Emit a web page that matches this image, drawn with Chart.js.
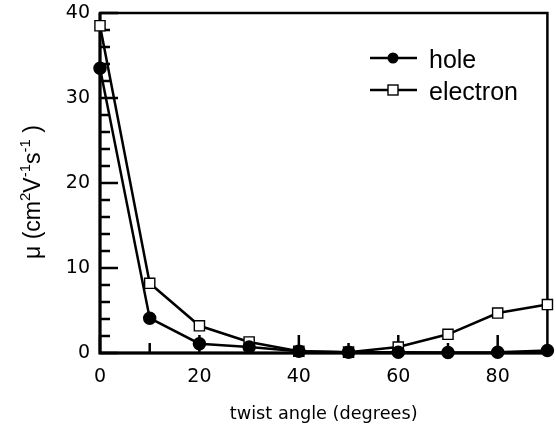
<!DOCTYPE html>
<html>
<head>
<meta charset="utf-8">
<script src="https://cdn.jsdelivr.net/npm/chart.js@4"></script>
<style>
  html, body { margin: 0; padding: 0; background: #fff; }
  #wrap { width: 556px; height: 434px; }
</style>
</head>
<body>
<div id="wrap"><canvas id="c" width="556" height="434"></canvas></div>
<script>
// data
const angles = [0, 10, 20, 30, 40, 50, 60, 70, 80, 90];
const hole = [33.5, 4.1, 1.1, 0.7, 0.2, 0.1, 0.1, 0.05, 0.1, 0.3];
const electron = [38.5, 8.2, 3.2, 1.3, 0.2, 0.1, 0.7, 2.2, 4.7, 5.7];
const xTicks = [0, 20, 40, 60, 80];
const xMinor = [10, 30, 50, 70];
const yTicks = [0, 10, 20, 30, 40];
const yMinor = [2, 4, 6, 8, 12, 14, 16, 18, 22, 24, 26, 28, 32, 34, 36, 38];
// y title pieces: [text, superscript?]
const yTitle = [["μ (cm", false], ["2", true], ["V", false], ["-1", true], ["s", false], ["-1", true], [" )", false]];

const numFont = { family: "DejaVu Sans", size: 19 };

// frame + inward ticks, legend box, y title with superscripts
const frame = {
  id: "frame",
  beforeDatasetsDraw(chart) {
    const { ctx, chartArea: a, scales: { x, y } } = chart;
    ctx.save();
    ctx.strokeStyle = "#000";
    ctx.lineWidth = 2.5;
    ctx.strokeRect(a.left, a.top, a.right - a.left, a.bottom - a.top);
    ctx.lineWidth = 3;
    ctx.beginPath();
    ctx.moveTo(a.left, a.top); ctx.lineTo(a.left, a.bottom); ctx.lineTo(a.right, a.bottom);
    ctx.stroke();
    ctx.lineWidth = 2.5;
    ctx.beginPath();
    yTicks.forEach(v => { const p = y.getPixelForValue(v); ctx.moveTo(a.left, p); ctx.lineTo(a.left + 18, p); });
    yMinor.forEach(v => { const p = y.getPixelForValue(v); ctx.moveTo(a.left, p); ctx.lineTo(a.left + 10, p); });
    xTicks.forEach(v => { const p = x.getPixelForValue(v); ctx.moveTo(p, a.bottom); ctx.lineTo(p, a.bottom - 18); });
    xMinor.forEach(v => { const p = x.getPixelForValue(v); ctx.moveTo(p, a.bottom); ctx.lineTo(p, a.bottom - 10); });
    ctx.stroke();

    // y axis title
    const big = "23px 'Liberation Sans'", small = "15px 'Liberation Sans'";
    let total = 0;
    yTitle.forEach(([t, sup]) => { ctx.font = sup ? small : big; total += ctx.measureText(t).width; });
    ctx.translate(40, 192);
    ctx.rotate(-Math.PI / 2);
    ctx.fillStyle = "#000";
    ctx.textBaseline = "alphabetic";
    let pos = -total / 2;
    yTitle.forEach(([t, sup]) => {
      ctx.font = sup ? small : big;
      ctx.fillText(t, pos, sup ? -10 : 0);
      pos += ctx.measureText(t).width;
    });
    ctx.restore();
  },
  afterDatasetsDraw(chart) {
    const { ctx } = chart;
    const rows = [["hole", 58, "circle"], ["electron", 90, "rect"]];
    ctx.save();
    ctx.strokeStyle = "#000";
    ctx.fillStyle = "#000";
    rows.forEach(([label, yy, kind]) => {
      ctx.lineWidth = 2.5;
      ctx.beginPath(); ctx.moveTo(370, yy); ctx.lineTo(417, yy); ctx.stroke();
      if (kind === "circle") {
        ctx.beginPath(); ctx.arc(393, yy, 5.5, 0, Math.PI * 2); ctx.fill();
      } else {
        ctx.fillStyle = "#fff";
        ctx.fillRect(388, yy - 5, 10, 10);
        ctx.lineWidth = 1.4;
        ctx.strokeRect(388, yy - 5, 10, 10);
        ctx.fillStyle = "#000";
      }
      ctx.font = "25px 'Liberation Sans'";
      ctx.textBaseline = "alphabetic";
      ctx.fillText(label, 429, yy + 10);
    });
    ctx.restore();
  }
};

new Chart(document.getElementById("c"), {
  type: "line",
  data: {
    labels: angles,
    datasets: [
      {
        label: "hole",
        data: angles.map((a, i) => ({ x: a, y: hole[i] })),
        borderColor: "#000", borderWidth: 2.5,
        pointStyle: "circle", pointRadius: 5.5,
        pointBackgroundColor: "#000", pointBorderColor: "#000",
        clip: false
      },
      {
        label: "electron",
        data: angles.map((a, i) => ({ x: a, y: electron[i] })),
        borderColor: "#000", borderWidth: 2.5,
        pointStyle: "rect", pointRadius: 7.2, pointBorderWidth: 1.4,
        pointBackgroundColor: "#fff", pointBorderColor: "#000",
        clip: false
      }
    ]
  },
  options: {
    responsive: false,
    animation: false,
    layout: { padding: { left: 0, right: 2, top: 13, bottom: 0 } },
    plugins: { legend: { display: false }, tooltip: { enabled: false } },
    scales: {
      x: {
        type: "linear", min: 0, max: 90,
        afterBuildTicks: s => { s.ticks = xTicks.map(v => ({ value: v })); },
        afterFit: s => { s.height = 81; s.paddingLeft = 0; s.paddingRight = 0; },
        grid: { display: false, drawTicks: false },
        border: { display: false },
        ticks: { color: "#000", font: numFont, padding: 13, maxRotation: 0 },
        title: {
          display: true, text: "twist angle (degrees)", color: "#000",
          font: { family: "DejaVu Sans", size: 17.7 }, padding: { top: 0, bottom: 9 }
        }
      },
      y: {
        type: "linear", min: 0, max: 40,
        afterBuildTicks: s => { s.ticks = yTicks.map(v => ({ value: v })); },
        afterFit: s => { s.width = 100; s.paddingTop = 0; s.paddingBottom = 0; },
        grid: { display: false, drawTicks: false },
        border: { display: false },
        ticks: { color: "#000", font: numFont, padding: 10 }
      }
    }
  },
  plugins: [frame]
});
</script>
</body>
</html>
